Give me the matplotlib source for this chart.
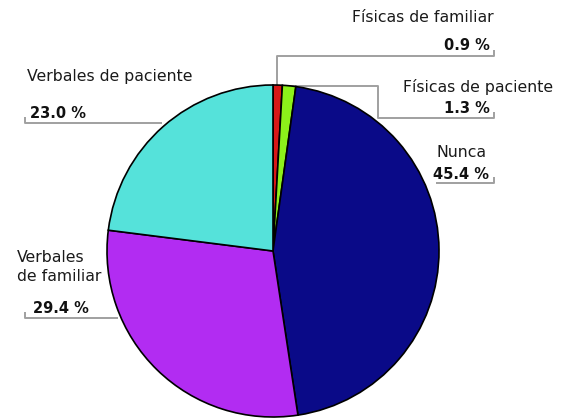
import matplotlib

matplotlib.use("Agg")
import matplotlib.pyplot as plt

# Data
categories = [
    "Físicas de familiar",
    "Físicas de paciente",
    "Nunca",
    "Verbales\nde familiar",
    "Verbales de paciente",
]
values = [0.9, 1.3, 45.4, 29.4, 23.0]
colors = ["#d81818", "#8cf01a", "#0a0a88", "#b22cf2", "#55e2da"]

W, H = 564, 419
fig = plt.figure(figsize=(W / 100, H / 100), dpi=100)

# pie axes: centre (273, 251) px, radius 166 px
cx, cy, r = 273, 251, 166
ax = fig.add_axes([(cx - r) / W, (H - cy - r) / H, 2 * r / W, 2 * r / H])
ax.pie(
    values,
    colors=colors,
    startangle=90,
    counterclock=False,
    radius=1,
    wedgeprops=dict(edgecolor="black", linewidth=1.2),
)
ax.set_xlim(-1, 1)
ax.set_ylim(-1, 1)
ax.set_aspect("auto")
ax.axis("off")

# overlay in pixel coordinates for labels and leader lines
ov = fig.add_axes([0, 0, 1, 1], zorder=-1)
ov.set_xlim(0, W)
ov.set_ylim(H, 0)
ov.axis("off")

font = ["DejaVu Sans"]
lab_kw = dict(fontsize=11.3, color="#1a1a1a", family=font, va="center")
pct_kw = dict(fontsize=10.5, color="#111111", family=font, va="center", fontweight="bold")
line_kw = dict(color="#a0a0a0", linewidth=1.4, solid_capstyle="butt")

# (label x, label y, ha, pct x, pct y, pct ha)
layout = [
    (494, 18, "right", 490, 45, "right"),
    (553, 87, "right", 490, 108, "right"),
    (487, 152, "right", 489, 174, "right"),
    (17, 267, "left", 33, 308, "left"),
    (27, 77, "left", 30, 113, "left"),
]

for cat, val, (lx, ly, lha, px, py, pha) in zip(categories, values, layout):
    ov.text(lx, ly, cat, ha=lha, linespacing=1.4, **lab_kw)
    ov.text(px, py, f"{val:.1f} %", ha=pha, **pct_kw)

# leader lines
ov.plot([277, 277, 494, 494], [86, 56, 56, 50], **line_kw)
ov.plot([283, 378, 378, 494, 494], [86, 86, 118, 118, 112], **line_kw)
ov.plot([436, 494, 494], [183, 183, 177], **line_kw)
ov.plot([25, 25, 118], [312, 318, 318], **line_kw)
ov.plot([25, 25, 162], [117, 123, 123], **line_kw)

fig.savefig("out.png", dpi=100)
